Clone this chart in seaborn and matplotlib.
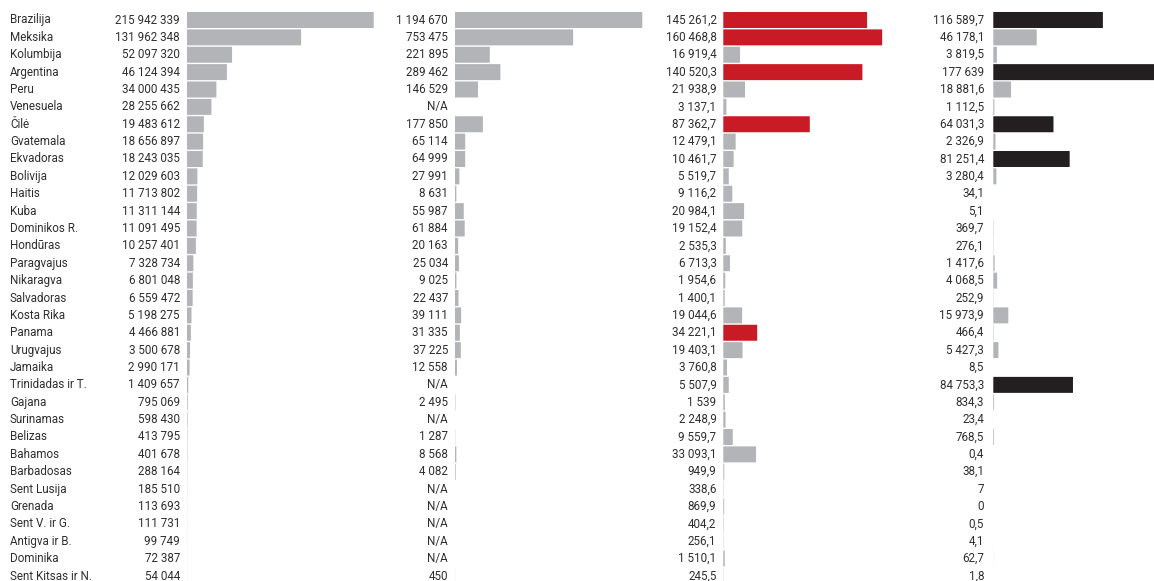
import numpy as np
import pandas as pd
import matplotlib.pyplot as plt
import matplotlib.transforms as mtransforms
import seaborn as sns

countries = ['Brazilija', 'Meksika', 'Kolumbija', 'Argentina', 'Peru', 'Venesuela', 'Čilė',
             'Gvatemala', 'Ekvadoras', 'Bolivija', 'Haitis', 'Kuba', 'Dominikos R.', 'Hondūras',
             'Paragvajus', 'Nikaragva', 'Salvadoras', 'Kosta Rika', 'Panama', 'Urugvajus',
             'Jamaika', 'Trinidadas ir T.', 'Gajana', 'Surinamas', 'Belizas', 'Bahamos',
             'Barbadosas', 'Sent Lusija', 'Grenada', 'Sent V. ir G.', 'Antigva ir B.',
             'Dominika', 'Sent Kitsas ir N.']

population = [215942339, 131962348, 52097320, 46124394, 34000435, 28255662, 19483612,
              18656897, 18243035, 12029603, 11713802, 11311144, 11091495, 10257401,
              7328734, 6801048, 6559472, 5198275, 4466881, 3500678, 2990171, 1409657,
              795069, 598430, 413795, 401678, 288164, 185510, 113693, 111731, 99749,
              72387, 54044]

col2 = [1194670, 753475, 221895, 289462, 146529, np.nan, 177850, 65114, 64999, 27991,
        8631, 55987, 61884, 20163, 25034, 9025, 22437, 39111, 31335, 37225, 12558,
        np.nan, 2495, np.nan, 1287, 8568, 4082, np.nan, np.nan, np.nan, np.nan, np.nan, 450]

col3 = [145261.2, 160468.8, 16919.4, 140520.3, 21938.9, 3137.1, 87362.7, 12479.1,
        10461.7, 5519.7, 9116.2, 20984.1, 19152.4, 2535.3, 6713.3, 1954.6, 1400.1,
        19044.6, 34221.1, 19403.1, 3760.8, 5507.9, 1539, 2248.9, 9559.7, 33093.1,
        949.9, 338.6, 869.9, 404.2, 256.1, 1510.1, 245.5]

col4 = [116589.7, 46178.1, 3819.5, 177639, 18881.6, 1112.5, 64031.3, 2326.9, 81251.4,
        3280.4, 34.1, 5.1, 369.7, 276.1, 1417.6, 4068.5, 252.9, 15973.9, 466.4, 5427.3,
        8.5, 84753.3, 834.3, 23.4, 768.5, 0.4, 38.1, 7, 0, 0.5, 4.1, 62.7, 1.8]

red_rows = ['Brazilija', 'Meksika', 'Argentina', 'Čilė', 'Panama']
black_rows = ['Brazilija', 'Argentina', 'Čilė', 'Ekvadoras', 'Trinidadas ir T.']

GREY = '#b3b4b8'
RED = '#c81b25'
BLACK = '#231f20'
TXT = '#2e2e2e'

sns.set_theme(style='white')
plt.rcParams['font.family'] = ['Roboto', 'DejaVu Sans']


def fmt(v):
    if pd.isna(v):
        return 'N/A'
    if float(v).is_integer():
        return f'{int(v):,}'.replace(',', ' ')
    return f'{v:,.1f}'.replace(',', ' ').replace('.', ',')


df = pd.DataFrame({'country': countries, 'pop': population,
                   'c2': col2, 'c3': col3, 'c4': col4})
df['k1'] = 'grey'
df['k2'] = 'grey'
df['k3'] = np.where(df['country'].isin(red_rows), 'hl', 'grey')
df['k4'] = np.where(df['country'].isin(black_rows), 'hl', 'grey')

W, H = 1154, 581
fig = plt.figure(figsize=(W / 100, H / 100), dpi=100)

pitch = 17.375
top = 20 - pitch / 2
height = pitch * len(countries)

# (column, colour key, highlight colour, bar left px, px per unit, axes width px, value right px)
cols = [
    ('pop', 'k1', GREY, 187, 186.7 / 215942339, 200, 180),
    ('c2', 'k2', GREY, 455, 187.3 / 1194670, 200, 448),
    ('c3', 'k3', RED, 723.3, 0.00099, 200, 716.5),
    ('c4', 'k4', BLACK, 993.3, 0.00094, W - 993.3, 984),
]

for col, key, hl, left, scale, wpx, vx in cols:
    ax = fig.add_axes([left / W, (H - top - height) / H, wpx / W, height / H])
    sns.barplot(data=df, y='country', x=col, hue=key, order=countries,
                palette={'grey': GREY, 'hl': hl}, dodge=False, legend=False,
                width=0.92, linewidth=0, saturation=1, ax=ax)
    for p in ax.patches:
        p.set_snap(False)
        p.set_edgecolor('none')
    ax.set_xlim(0, wpx / scale)
    ax.set_ylim(len(countries) - 0.5, -0.5)
    ax.axis('off')
    tr = mtransforms.blended_transform_factory(fig.transFigure, ax.transData)
    for i, v in enumerate(df[col]):
        ax.text(vx / W, i, fmt(v), transform=tr, ha='right', va='center',
                fontsize=8.4, color=TXT, clip_on=False)
    if col == 'pop':
        for i, c in enumerate(countries):
            ax.text(10 / W, i, c, transform=tr, ha='left', va='center',
                    fontsize=8.4, color=TXT, clip_on=False)

fig.savefig('out.png', dpi=100, facecolor='white')
